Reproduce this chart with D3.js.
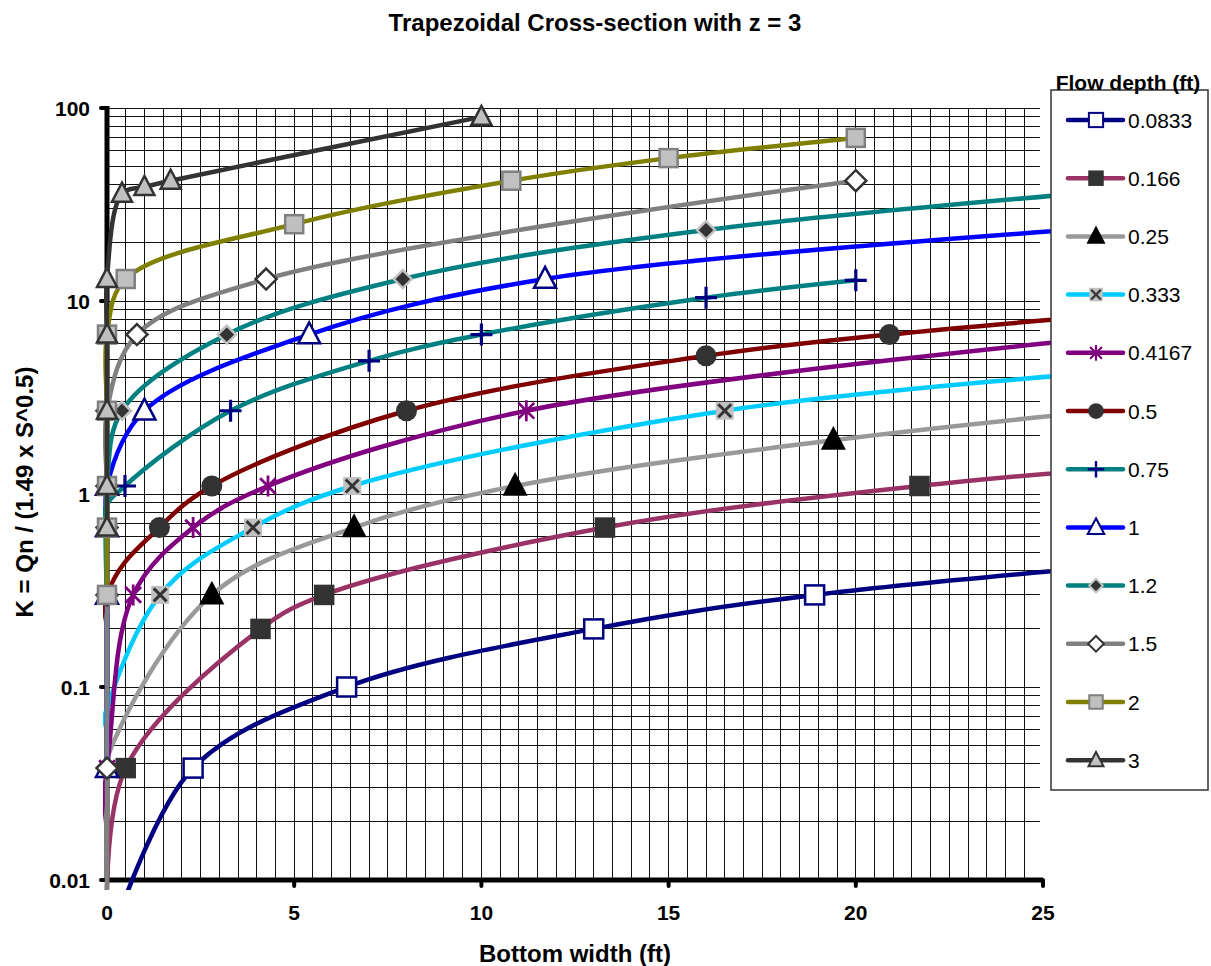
<!DOCTYPE html>
<html>
<head>
<meta charset="utf-8">
<script src="https://cdn.jsdelivr.net/npm/d3@7"></script>
<style>
  body { margin: 0; background: #fff; }
  svg { display: block; font-family: "Liberation Sans", Arial, sans-serif; }
</style>
</head>
<body>
<div id="main"></div>
<script>
// flow depths (legend labels), one series each
const depths = ["0.0833", "0.166", "0.25", "0.333", "0.4167", "0.5", "0.75", "1", "1.2", "1.5", "2", "3"];

// bottom width (ft) of each point, per series (points off the axes get no marker)
const widths = [
  [0.25, 2.3, 6.4, 13.0, 18.9, 36],
  [0, 0.5, 4.1, 5.8, 13.3, 21.7, 31.5],
  [-0.5, -0.1, 2.8, 6.6, 10.9, 19.4, 26.6],
  [-1.5, -0.5, 1.42, 3.9, 6.55, 16.5, 28],
  [-0.5, 0, 0.7, 2.3, 4.3, 11.2, 27.4],
  [-0.15, 0, 1.4, 2.8, 8.0, 16.0, 20.9, 29],
  [-0.5, -0.1, 0.48, 3.3, 7.0, 10.0, 16.0, 20.0],
  [0, 0, 0, 0, 1.0, 5.4, 11.7, 28],
  [0, 0, 0.4, 3.2, 7.9, 16.0, 30],
  [0, 0, 0, 0, 0, 0, 0.8, 4.25, 20.0],
  [0, 0, 0, 0, 0, 0.5, 5.0, 10.8, 15.0, 20.0],
  [0, 0, 0, 0, 0, 0.4, 1.0, 1.7, 10.0]
];

// K = Qn / (1.49 x S^0.5) of each point, per series
const kValues = [
  [0.006, 0.038, 0.1, 0.2, 0.3, 0.6],
  [0.006, 0.038, 0.2, 0.3, 0.67, 1.1, 1.6],
  [0.0094, 0.038, 0.3, 0.67, 1.1, 1.9, 2.7],
  [0.004, 0.038, 0.3, 0.67, 1.1, 2.7, 4.5],
  [0.004, 0.038, 0.3, 0.67, 1.1, 2.7, 6.7],
  [0.004, 0.3, 0.67, 1.1, 2.7, 5.2, 6.7, 9.2],
  [0.004, 0.8, 1.1, 2.7, 4.9, 6.7, 10.4, 12.8],
  [0.038, 0.3, 0.67, 1.1, 2.7, 6.7, 13, 25],
  [0.3, 1.1, 2.7, 6.7, 13, 23.3, 42],
  [0.004, 0.038, 0.3, 0.67, 1.1, 2.7, 6.7, 13, 42],
  [0.3, 0.67, 1.1, 2.7, 6.7, 13, 25, 42, 55, 70],
  [0.67, 1.1, 2.7, 6.7, 13, 36, 39, 42, 90]
];

const lineColors = ["#000080", "#993366", "#999999", "#00CCFF", "#800080", "#800000",
                    "#008080", "#0000FF", "#008080", "#808080", "#808000", "#333333"];
const markerTypes = ["square", "square", "triangle", "xbox", "star", "circle",
                     "plus", "triangle", "diamond", "diamond", "square", "triangle"];
const markerFills = ["#ffffff", "#333333", "#000000", "#C0C0C0", "none", "#333333",
                     "none", "#ffffff", "#333333", "#ffffff", "#C0C0C0", "#C0C0C0"];
const markerStrokes = ["#000080", "#333333", "#000000", "#333333", "#800080", "#333333",
                       "#000080", "#000080", "#C0C0C0", "#333333", "#808080", "#333333"];
const markerSizes = [19, 18, 21, 18, 21, 21, 22, 22, 18, 21, 18, 20];

const xTicks = [0, 5, 10, 15, 20, 25];
const yTicks = [0.01, 0.1, 1, 10, 100];
const yTickLabels = ["0.01", "0.1", "1", "10", "100"];

const W = 1211, H = 966;
const plot = { left: 107, right: 1043, top: 108, bottom: 880 };

function drawMarker(g, i, cx, cy, scale) {
  const t = markerTypes[i];
  const s = markerSizes[i] * scale;
  const h = s / 2;
  const m = g.append("g").attr("transform", `translate(${cx},${cy})`);
  const sw = 2.5 * Math.max(scale, 0.8);
  if (t === "square") {
    m.append("rect").attr("x", -h).attr("y", -h).attr("width", s).attr("height", s)
      .attr("fill", markerFills[i]).attr("stroke", markerStrokes[i]).attr("stroke-width", sw);
  } else if (t === "triangle") {
    m.append("path").attr("d", `M0,${-0.55 * s}L${h},${0.4 * s}L${-h},${0.4 * s}Z`)
      .attr("fill", markerFills[i]).attr("stroke", markerStrokes[i])
      .attr("stroke-width", sw).attr("stroke-linejoin", "miter");
  } else if (t === "diamond") {
    m.append("path").attr("d", `M0,${-h}L${h},0L0,${h}L${-h},0Z`)
      .attr("fill", markerFills[i]).attr("stroke", markerStrokes[i]).attr("stroke-width", sw);
  } else if (t === "circle") {
    m.append("circle").attr("r", h).attr("fill", markerFills[i]);
  } else if (t === "xbox") {
    m.append("rect").attr("x", -h).attr("y", -h).attr("width", s).attr("height", s)
      .attr("fill", markerFills[i]);
    const a = h * 0.72;
    m.append("path").attr("d", `M${-a},${-a}L${a},${a}M${-a},${a}L${a},${-a}`)
      .attr("stroke", markerStrokes[i]).attr("stroke-width", 3 * scale);
  } else if (t === "star") {
    const a = h * 0.75;
    m.append("path").attr("d", `M0,${-h}L0,${h}M${-a},${-a}L${a},${a}M${-a},${a}L${a},${-a}`)
      .attr("stroke", markerStrokes[i]).attr("stroke-width", 2.8 * scale);
  } else if (t === "plus") {
    m.append("path").attr("d", `M0,${-h}L0,${h}M${-h},0L${h},0`)
      .attr("stroke", markerStrokes[i]).attr("stroke-width", 3.2 * scale);
  }
}

function createChart(svg) {
  const x = d3.scaleLinear().domain([0, 25]).range([plot.left, plot.right]);
  const y = d3.scaleLog().domain([0.01, 100]).range([plot.bottom, plot.top]);

  // grid
  const grid = svg.append("g").attr("shape-rendering", "crispEdges");
  const vLines = d3.range(0.5, 25, 0.5);
  grid.selectAll("line.v").data(vLines).enter().append("line")
    .attr("x1", d => x(d)).attr("x2", d => x(d))
    .attr("y1", plot.top).attr("y2", plot.bottom)
    .attr("stroke", "#111").attr("stroke-width", 1);
  const hLines = [];
  [0.01, 0.1, 1, 10].forEach(dec => {
    for (let k = 1; k <= 10; k++) hLines.push(dec * k);
  });
  grid.selectAll("line.h").data(hLines.filter(d => d > 0.01)).enter().append("line")
    .attr("x1", plot.left).attr("x2", plot.right - 3)
    .attr("y1", d => y(d)).attr("y2", d => y(d))
    .attr("stroke", "#111").attr("stroke-width", 1);

  // axes
  const axes = svg.append("g");
  axes.append("line").attr("x1", plot.left).attr("x2", plot.left)
    .attr("y1", plot.top - 2).attr("y2", plot.bottom)
    .attr("stroke", "#000").attr("stroke-width", 5);
  axes.append("line").attr("x1", plot.left).attr("x2", plot.right)
    .attr("y1", plot.bottom).attr("y2", plot.bottom)
    .attr("stroke", "#000").attr("stroke-width", 5);
  axes.selectAll("line.yt").data(yTicks).enter().append("line")
    .attr("x1", plot.left - 6).attr("x2", plot.left)
    .attr("y1", d => y(d)).attr("y2", d => y(d))
    .attr("stroke", "#000").attr("stroke-width", 4).attr("stroke-linecap", "round");
  axes.selectAll("line.xt").data(xTicks).enter().append("line")
    .attr("x1", d => x(d)).attr("x2", d => x(d))
    .attr("y1", plot.bottom).attr("y2", plot.bottom + 6)
    .attr("stroke", "#000").attr("stroke-width", 4).attr("stroke-linecap", "round");
  axes.selectAll("text.yl").data(yTicks).enter().append("text")
    .attr("x", 90).attr("y", d => y(d) + 7.5)
    .attr("text-anchor", "end").attr("font-size", 21).attr("font-weight", "bold")
    .text((d, i) => yTickLabels[i]);
  axes.selectAll("text.xl").data(xTicks).enter().append("text")
    .attr("x", d => x(d)).attr("y", plot.bottom + 40)
    .attr("text-anchor", "middle").attr("font-size", 21).attr("font-weight", "bold")
    .text(d => d);

  // titles
  svg.append("text").attr("x", 595).attr("y", 31).attr("text-anchor", "middle")
    .attr("font-size", 24).attr("font-weight", "bold")
    .text("Trapezoidal Cross-section with z = 3");
  svg.append("text").attr("x", 575).attr("y", 962).attr("text-anchor", "middle")
    .attr("font-size", 24).attr("font-weight", "bold")
    .text("Bottom width (ft)");
  svg.append("text").attr("transform", "translate(33,492) rotate(-90)")
    .attr("text-anchor", "middle").attr("font-size", 24).attr("font-weight", "bold")
    .text("K = Qn / (1.49 x S^0.5)");

  // series: lines clipped to the plot, markers only for points on the axes' range
  svg.append("clipPath").attr("id", "clip").append("rect")
    .attr("x", 103).attr("y", 95).attr("width", 1051 - 103).attr("height", 890 - 95);
  const series = svg.append("g");
  const line = d3.line().x(d => x(d[0])).y(d => y(d[1])).curve(d3.curveCatmullRom.alpha(0.5));

  depths.forEach((dep, i) => {
    const pts = widths[i].map((w, j) => [w, kValues[i][j]]);
    const g = series.append("g");
    g.append("path").attr("d", line(pts)).attr("fill", "none")
      .attr("clip-path", "url(#clip)")
      .attr("stroke", lineColors[i]).attr("stroke-width", 4.5)
      .attr("stroke-linejoin", "round").attr("stroke-linecap", "round");
    pts.filter(p => p[0] >= 0 && p[0] <= 25.3 && p[1] >= 0.01 && p[1] <= 100)
      .forEach(p => drawMarker(g, i, x(p[0]), y(p[1]), 1));
  });

  // legend
  const lg = svg.append("g");
  lg.append("rect").attr("x", 1051).attr("y", 90).attr("width", 157).attr("height", 700)
    .attr("fill", "#fff").attr("stroke", "#333").attr("stroke-width", 1.5);
  lg.append("text").attr("x", 1128).attr("y", 90).attr("text-anchor", "middle")
    .attr("font-size", 21).attr("font-weight", "bold").text("Flow depth (ft)");
  depths.forEach((dep, i) => {
    const ly = 120 + i * 58.2;
    lg.append("line").attr("x1", 1068).attr("x2", 1123).attr("y1", ly).attr("y2", ly)
      .attr("stroke", lineColors[i]).attr("stroke-width", 4.5).attr("stroke-linecap", "round");
    drawMarker(lg, i, 1096, ly, 0.75);
    lg.append("text").attr("x", 1128).attr("y", ly + 7.5).attr("font-size", 21).text(dep);
  });
}

const svg = d3.select("#main").append("svg").attr("width", W).attr("height", H);
createChart(svg);
</script>
</body>
</html>
